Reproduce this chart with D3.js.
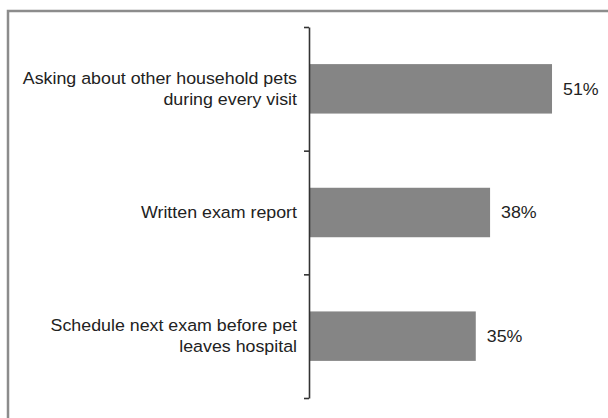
<!DOCTYPE html>
<html>
<head>
<meta charset="utf-8">
<script src="https://cdn.jsdelivr.net/npm/d3@7/dist/d3.min.js"></script>
<style>
  html, body { margin: 0; padding: 0; background: #fff; }
  svg { display: block; }
  text { font-family: "Liberation Sans", Arial, sans-serif; fill: #222; }
</style>
</head>
<body>
<svg id="chart" width="608" height="418"></svg>
<script>
const categories = [
  "Asking about other household pets during every visit",
  "Written exam report",
  "Schedule next exam before pet leaves hospital"
];
const categoryLines = [
  ["Asking about other household pets", "during every visit"],
  ["Written exam report"],
  ["Schedule next exam before pet", "leaves hospital"]
];
const values = [51, 38, 35];
const valueLabels = ["51%", "38%", "35%"];

const svg = d3.select("#chart");

// outer frame (clipped on right/bottom as in reference)
svg.append("rect")
  .attr("x", 8).attr("y", 11)
  .attr("width", 640).attr("height", 440)
  .attr("fill", "none")
  .attr("stroke", "#8c8c8c")
  .attr("stroke-width", 2.5);

const x0 = 309, yTop = 27, yBot = 398;
const x = d3.scaleLinear().domain([0, 60]).range([x0, x0 + 60 * 4.765]);
const y = d3.scaleBand().domain(categories).range([yTop, yBot]).padding(0);
const barH = y.bandwidth() * 0.4;

// bars
svg.append("g").selectAll("rect")
  .data(categories)
  .join("rect")
  .attr("x", x(0))
  .attr("y", d => y(d) + (y.bandwidth() - barH) / 2)
  .attr("width", (d, i) => x(values[i]) - x(0))
  .attr("height", barH)
  .attr("fill", "#858585");

// axis with ticks at category boundaries
const yb = d3.scaleLinear().domain([0, categories.length]).range([yTop, yBot]);
const axis = d3.axisLeft(yb)
  .tickValues(d3.range(0, categories.length + 1))
  .tickFormat("")
  .tickSize(5)
  .tickSizeOuter(0);
const ag = svg.append("g")
  .attr("transform", `translate(${x0},0)`)
  .call(axis);
ag.selectAll("path, line").attr("stroke", "#333").attr("stroke-width", 1.6);

// category labels
const fs = 16.5, lh = 21, sx = 1.08;
svg.append("g").selectAll("text")
  .data(categories)
  .join("text")
  .attr("text-anchor", "end")
  .attr("font-size", fs)
  .attr("transform", `translate(297,0) scale(${sx},1)`)
  .each(function(d, i) {
    const lines = categoryLines[i];
    const cy = y(d) + y.bandwidth() / 2;
    const first = cy - (lines.length - 1) * lh / 2 + fs * 0.35;
    d3.select(this).selectAll("tspan")
      .data(lines)
      .join("tspan")
      .attr("x", 0)
      .attr("y", (l, j) => first + j * lh)
      .text(l => l);
  });

// value labels
svg.append("g").selectAll("text")
  .data(categories)
  .join("text")
  .attr("transform", (d, i) => `translate(${x(values[i]) + 11},0) scale(${sx},1)`)
  .attr("x", 0)
  .attr("y", d => y(d) + y.bandwidth() / 2)
  .attr("dy", "0.36em")
  .attr("font-size", fs)
  .text((d, i) => valueLabels[i]);
</script>
</body>
</html>
